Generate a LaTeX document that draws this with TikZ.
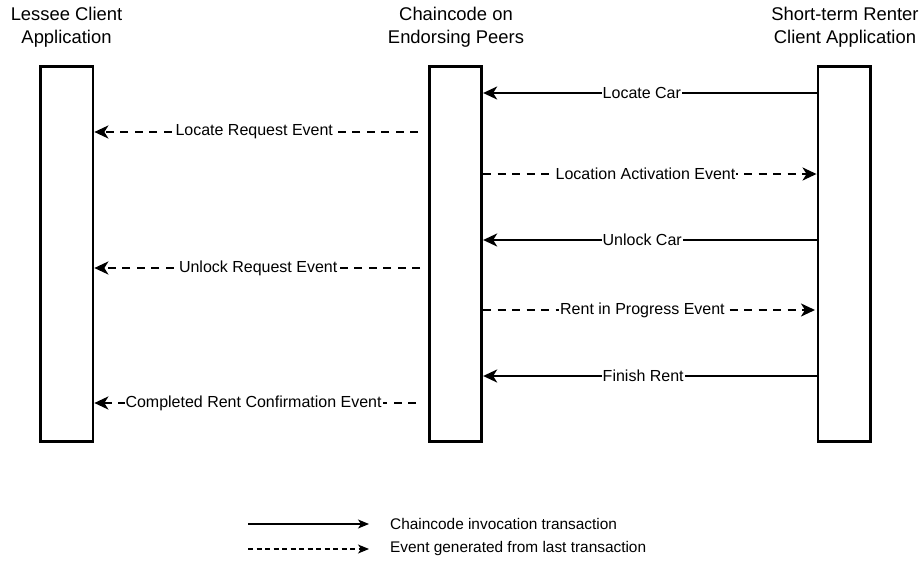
\documentclass[tikz,border=0pt]{standalone}
\usepackage{fontspec}
\setmainfont{Liberation Sans}
\usetikzlibrary{arrows.meta}
\begin{document}
\begin{tikzpicture}[x=1pt,y=-1pt,
  lifeline/.style={draw,line width=2.7pt,minimum width=52.5pt,minimum height=375pt,inner sep=0pt},
  title/.style={align=center,font=\fontsize{18.4}{23}\selectfont},
  call/.style={line width=2.2pt,-{Stealth[length=14pt,width=13pt,inset=4pt]}},
  event/.style={call,dash pattern=on 8pt off 6.5pt},
  lbl/.style={fill=white,inner sep=1pt,font=\fontsize{16}{19}\selectfont},
  keyline/.style={line width=1.2pt,-{Stealth[length=11pt,width=9pt,inset=3pt]}},
  keytext/.style={anchor=west,inner sep=0pt,font=\fontsize{15.4}{18}\selectfont}]
\useasboundingbox (0,0) rectangle (922,562);

% participants
\node[title] (tLessee) at (66.5,27.5) {Lessee Client\\Application};
\node[title] (tChain) at (456,27.5) {Chaincode on\\Endorsing Peers};
\node[title] (tRenter) at (845,27.5) {Short-term Renter\\Client Application};

\node[lifeline] (lessee) at (66.75,254.2) {};
\node[lifeline] (chain) at (455.55,254.2) {};
\node[lifeline] (renter) at (844.15,254.2) {};

% free ends of the event arrows that stop short of a lifeline
\coordinate (e1) at (418,132);
\coordinate (e2) at (420,268);
\coordinate (e3) at (815,310);
\coordinate (e4) at (416,403);

% messages
\draw[call] (renter.west |- 0,93) -- (chain.east |- 0,93)
  node[lbl,pos=0.524] (m1) {Locate Car};
\draw[event] (e1) -- (lessee.east |- e1)
  node[lbl,pos=0.506] (m2) {Locate Request Event};
\draw[event] (chain.east |- 0,174) -- (renter.west |- 0,174)
  node[lbl,pos=0.487] (m3) {Location Activation Event};
\draw[call] (renter.west |- 0,240) -- (chain.east |- 0,240)
  node[lbl,pos=0.523] (m4) {Unlock Car};
\draw[event] (e2) -- (lessee.east |- e2)
  node[lbl,pos=0.497] (m5) {Unlock Request Event};
\draw[event] (chain.east |- e3) -- (e3)
  node[lbl,pos=0.48] (m6) {Rent in Progress Event};
\draw[call] (renter.west |- 0,376) -- (chain.east |- 0,376)
  node[lbl,pos=0.52] (m7) {Finish Rent};
\draw[event] (e4) -- (lessee.east |- e4)
  node[lbl,pos=0.505] (m8) {Completed Rent Confirmation Event};

% key
\coordinate (k1a) at (248,524);
\coordinate (k1b) at (369,524);
\coordinate (k2a) at (248,549);
\coordinate (k2b) at (369,549);
\draw[keyline] (k1a) -- (k1b);
\draw[keyline,dash pattern=on 5pt off 3.5pt] (k2a) -- (k2b);
\node[keytext] (k1) at (390,524) {Chaincode invocation transaction};
\node[keytext] (k2) at (390,549) {Event generated from last transaction};
\end{tikzpicture}
\end{document}
